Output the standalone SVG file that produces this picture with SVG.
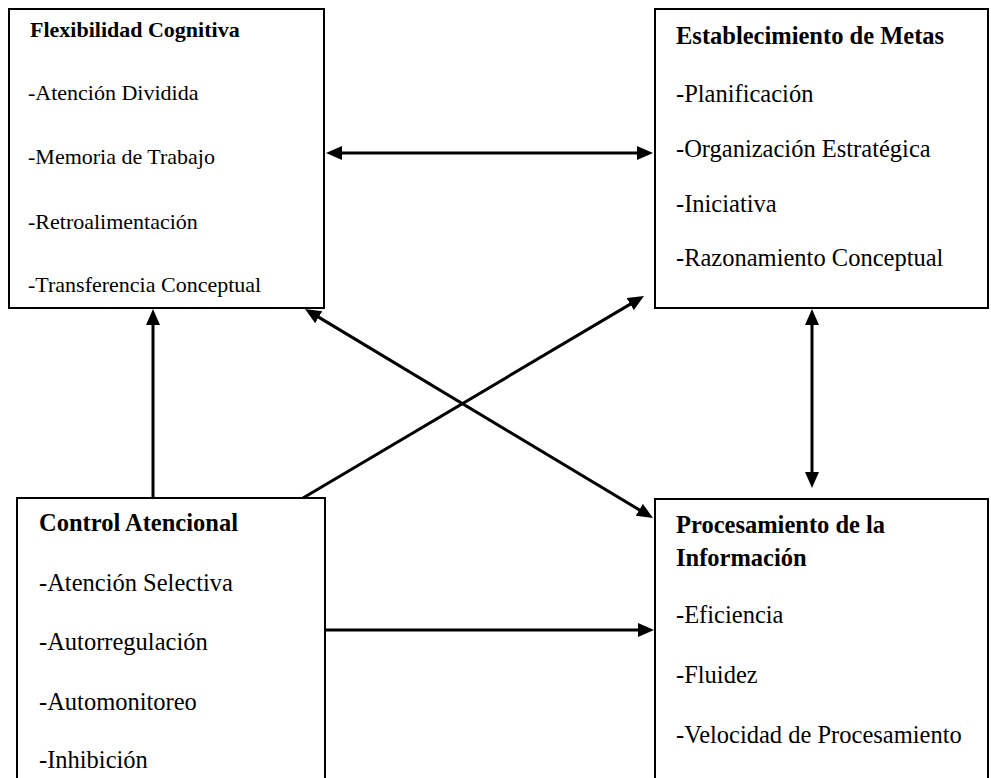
<svg xmlns="http://www.w3.org/2000/svg" width="991" height="778" viewBox="0 0 991 778">
<style>
.box{fill:#fff;stroke:#000;stroke-width:2}
.t{font-family:"Liberation Serif","Times New Roman",serif;fill:#000}
.s22{font-size:22px}
.s24{font-size:24.5px}
.b{font-weight:bold}
.c{stroke:#000;stroke-width:3;fill:none}
</style>
<defs>
<marker id="ah" markerUnits="userSpaceOnUse" markerWidth="16" markerHeight="14" refX="6" refY="7" orient="auto-start-reverse" viewBox="0 0 16 14">
<path d="M0,0 L16,7 L0,14 z" fill="#000"/>
</marker>
</defs>
<rect width="991" height="778" fill="#fff"/>
<g id="flexibilidad">
<rect class="box" x="9" y="9" width="315" height="299"/>
<text class="t s22 b" x="30" y="37">Flexibilidad Cognitiva</text>
<text class="t s22" x="28" y="100">-Atención Dividida</text>
<text class="t s22" x="28" y="164">-Memoria de Trabajo</text>
<text class="t s22" x="28" y="229">-Retroalimentación</text>
<text class="t s22" x="28" y="292">-Transferencia Conceptual</text>
</g>
<g id="establecimiento">
<rect class="box" x="655" y="9" width="333" height="299"/>
<text class="t s24 b" x="676" y="44">Establecimiento de Metas</text>
<text class="t s24" x="676" y="102">-Planificación</text>
<text class="t s24" x="676" y="157">-Organización Estratégica</text>
<text class="t s24" x="676" y="212">-Iniciativa</text>
<text class="t s24" x="676" y="266">-Razonamiento Conceptual</text>
</g>
<g id="control">
<rect class="box" x="17" y="498" width="308" height="300"/>
<text class="t s24 b" x="39" y="531">Control Atencional</text>
<text class="t s24" x="39" y="591">-Atención Selectiva</text>
<text class="t s24" x="39" y="650">-Autorregulación</text>
<text class="t s24" x="39" y="710">-Automonitoreo</text>
<text class="t s24" x="39" y="768">-Inhibición</text>
</g>
<g id="procesamiento">
<rect class="box" x="655" y="499" width="333" height="300"/>
<text class="t s24 b" x="676" y="533">Procesamiento de la</text>
<text class="t s24 b" x="676" y="566">Información</text>
<text class="t s24" x="676" y="623">-Eficiencia</text>
<text class="t s24" x="676" y="683">-Fluidez</text>
<text class="t s24" x="676" y="743">-Velocidad de Procesamiento</text>
</g>
<g id="connectors">
<line class="c" x1="336" y1="153" x2="643" y2="153" marker-start="url(#ah)" marker-end="url(#ah)"/>
<line class="c" x1="153" y1="498" x2="153" y2="319" marker-end="url(#ah)"/>
<line class="c" x1="303" y1="498" x2="635.4" y2="301.1" marker-end="url(#ah)"/>
<line class="c" x1="313.6" y1="314.1" x2="644.4" y2="512.9" marker-start="url(#ah)" marker-end="url(#ah)"/>
<line class="c" x1="812" y1="319" x2="812" y2="478" marker-start="url(#ah)" marker-end="url(#ah)"/>
<line class="c" x1="325" y1="630" x2="644" y2="630" marker-end="url(#ah)"/>
</g>
</svg>
